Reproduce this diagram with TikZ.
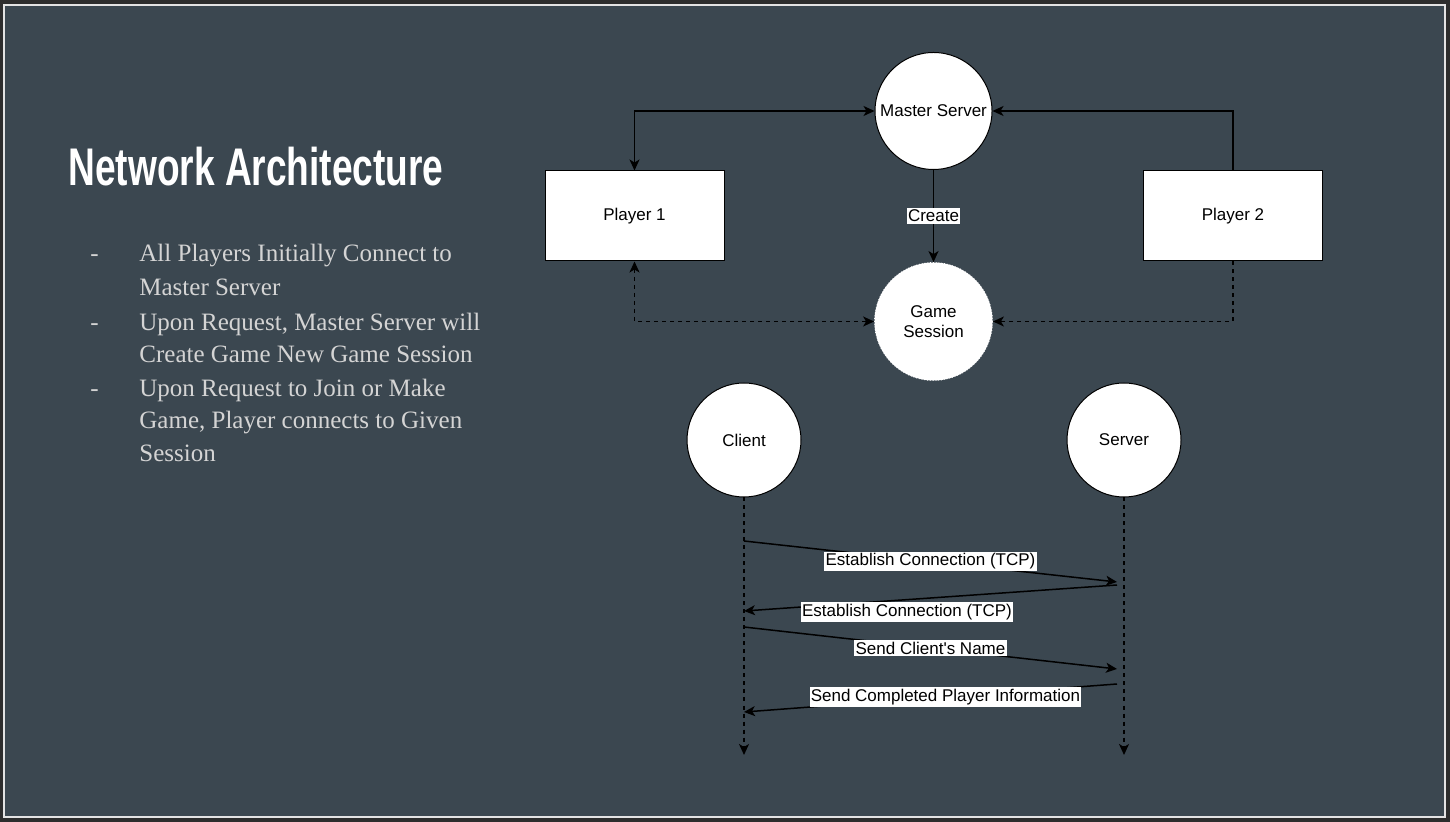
\documentclass[tikz,border=0pt]{standalone}
\usepackage{fontspec}
\setmainfont{Liberation Serif}
\newfontfamily\diagfont{Liberation Sans}
\usepackage{xcolor}
\usepackage{graphicx}
\usepackage{tikz}
\usetikzlibrary{arrows.meta}
\usetikzlibrary{positioning}
\definecolor{slate}{HTML}{3B4750}
\definecolor{frame}{HTML}{2D2D2D}
\definecolor{rim}{HTML}{E3E3E3}
\definecolor{bodygrey}{HTML}{D4D4D4}
\tikzset{
    dnode/.style = {align=center, inner sep=0pt, text centered, font=\diagfont\fontsize{8.5}{10}\selectfont},
    circ_node/.style = {dnode, circle, draw=black, fill=white, line width=0.5pt, minimum size=58.5pt},
    small_circ/.style = {dnode, circle, draw=black, fill=white, line width=0.5pt, minimum size=57pt},
    game_node/.style = {dnode, circle, draw=white, densely dotted, fill=white, minimum size=59pt},
    rect_node/.style = {dnode, rectangle, draw=black, fill=white, line width=0.5pt, minimum width=89.5pt, minimum height=45pt},
    conn/.style = {line width=0.75pt, black, >={Stealth[length=5.5pt, width=5pt, inset=1.5pt]}},
    dconn/.style = {conn, dash pattern=on 2pt off 2pt},
    msg_lbl/.style = {dnode, fill=white, inner xsep=0.6pt, inner ysep=1pt, text=black},
    title_txt/.style = {anchor=base west, inner sep=0pt, text=white, font=\diagfont\bfseries\fontsize{26.5}{30}\selectfont},
    body_txt/.style = {anchor=base west, inner sep=0pt, text=bodygrey, font=\fontsize{12.5}{16}\selectfont}
}
\begin{document}
\begin{tikzpicture}[x=0.5pt, y=-0.5pt]
    \useasboundingbox (0,0) rectangle (1450,822);
    \fill[frame] (0,0) rectangle (1450,822);
    \filldraw[fill=slate, draw=rim, line width=1pt] (4,5) rectangle (1445,817);

    \node[title_txt] (title) at (68,186) {\scalebox{0.70}[1]{Network Architecture}};
    \foreach \yy in {262,331,397}
        \node[body_txt] at (90,\yy) {-};
    \foreach \yy/\txt in {262/All Players Initially Connect to, 296/Master Server,
                          331/{Upon Request, Master Server will}, 363/Create Game New Game Session,
                          397/Upon Request to Join or Make, 429/{Game, Player connects to Given},
                          462/Session}
        \node[body_txt] at (139,\yy) {\txt};

    \node[circ_node] (master) at (933.5,111) {Master Server};
    \node[rect_node] (player1) at (634.5,216) {Player 1};
    \node[rect_node] (player2) at (1233,216) {Player 2};
    \node[game_node] (game) at (933.5,321.5) {Game\\Session};
    \node[small_circ] (client) at (744,440) {Client};
    \node[small_circ] (server) at (1124,440) {Server};

    \draw[conn, <->] (player1.north) |- (master.west);
    \draw[conn, ->] (player2.north) |- (master.east);
    \draw[conn, ->] (master.south) -- node[msg_lbl] {Create} (game.north);
    \draw[dconn, <->] (player1.south) |- (game.west);
    \draw[dconn, ->] (player2.south) |- (game.east);

    \coordinate (client_end) at (744,755);
    \coordinate (server_end) at (1124,755);
    \draw[dconn, ->] (client.south) -- (client_end);
    \draw[dconn, ->] (server.south) -- (server_end);

    \coordinate (c1) at (744,541);
    \coordinate (s1) at (1117,582);
    \coordinate (s2) at (1117,585);
    \coordinate (c2) at (744,611);
    \coordinate (c3) at (744,627);
    \coordinate (s3) at (1117,669);
    \coordinate (s4) at (1117,684);
    \coordinate (c4) at (744,712);
    \draw[conn, ->] (c1) -- node[msg_lbl] {Establish Connection (TCP)} (s1);
    \draw[conn, ->] (s2) -- node[msg_lbl, pos=0.563, yshift=-6pt] {Establish Connection (TCP)} (c2);
    \draw[conn, ->] (c3) -- node[msg_lbl] {Send Client's Name} (s3);
    \draw[conn, ->] (s4) -- node[msg_lbl, pos=0.46] {Send Completed Player Information} (c4);
\end{tikzpicture}
\end{document}
